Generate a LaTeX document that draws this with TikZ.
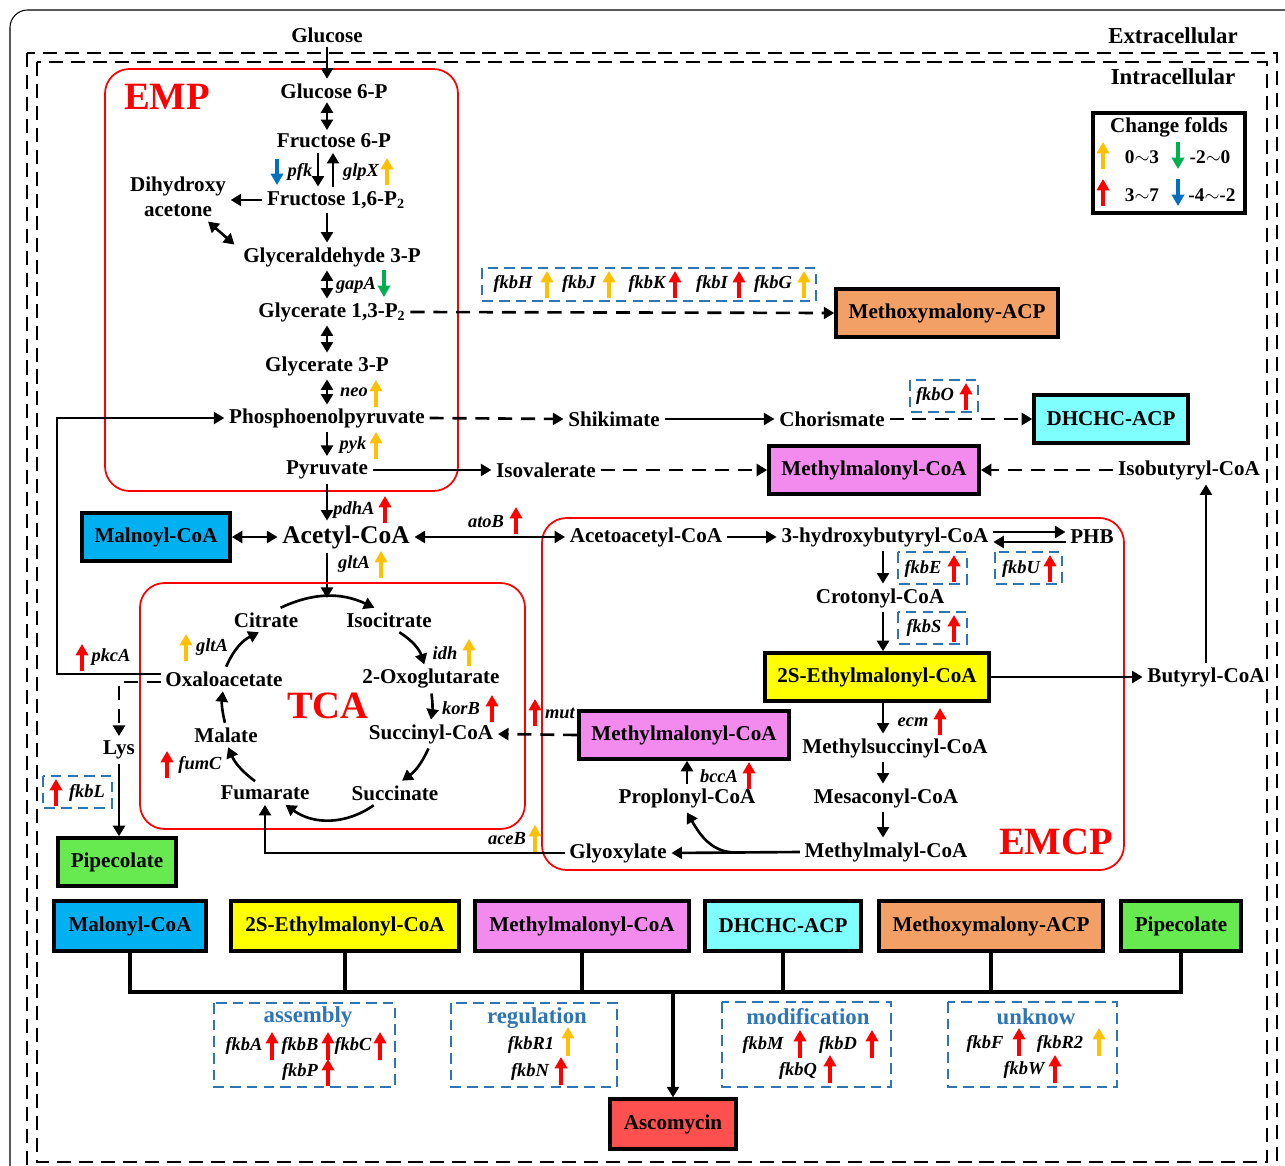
\documentclass[tikz,border=0pt]{standalone}
\usepackage{fontspec}
\setmainfont{Liberation Serif}
\usetikzlibrary{arrows.meta,calc}
\definecolor{foldyel}{RGB}{255,192,0}
\definecolor{foldgrn}{RGB}{0,176,80}
\definecolor{foldblu}{RGB}{0,112,192}
\definecolor{genebox}{RGB}{46,117,182}
\definecolor{malblue}{RGB}{0,176,240}
\definecolor{ethyel}{RGB}{255,255,0}
\definecolor{mmpink}{RGB}{243,139,238}
\definecolor{dhcyan}{RGB}{128,255,255}
\definecolor{mxorange}{RGB}{242,160,102}
\definecolor{pipgreen}{RGB}{102,234,80}
\definecolor{ascred}{RGB}{255,80,80}
\begin{document}
\begin{tikzpicture}[x=0.02cm,y=0.02cm,>={Triangle[length=6pt,width=6.8pt]},line width=1.5pt,
every node/.style={font=\bfseries\fontsize{12}{14}\selectfont,inner sep=2pt},
gene/.style={font=\bfseries\itshape\fontsize{10.5}{12}\selectfont,inner sep=1pt},
box/.style={draw,line width=2.3pt,inner xsep=7pt,minimum height=27pt},
bbox/.style={box,inner xsep=8pt,minimum height=28pt},
pway/.style={draw=red,line width=1pt,rounded corners=14pt},
pname/.style={red,font=\bfseries\fontsize{22}{24}\selectfont},
cellwall/.style={dash pattern=on 8pt off 4.5pt,line width=1.4pt},
dsh/.style={dash pattern=on 8pt off 5pt},
gbox/.style={draw=genebox,dash pattern=on 6pt off 3.5pt,line width=1pt},
gtitle/.style={genebox,font=\bfseries\fontsize{13}{15}\selectfont},
fold/.style={line width=2.1pt,-{Triangle[length=6.5pt,width=7pt]}},
fy/.style={fold,foldyel},fr/.style={fold,red},fg/.style={fold,foldgrn},fb/.style={fold,foldblu},
num/.style={font=\bfseries\fontsize{11}{13}\selectfont}]
\fill[white] (0,0) rectangle (1285,-1166);
\useasboundingbox (0,0) rectangle (1285,-1166);
\draw[line width=.6pt,rounded corners=10pt] (10,-10) rectangle (1320,-1200);
\draw[cellwall] (27,-53) rectangle (1277,-1190);
\draw[cellwall] (37,-62) rectangle (1267,-1162);
\node[font=\bfseries\fontsize{13}{15}\selectfont] (extra) at (1173,-36) {Extracellular};
\node[font=\bfseries\fontsize{13}{15}\selectfont] (intra) at (1173,-77) {Intracellular};

\draw[pway] (105,-69) rectangle (458,-491);
\node[pname] (emp) at (167,-97) {EMP};
\node (glc) at (327,-35) {Glucose};
\node (g6p) at (334,-91) {Glucose 6-P};
\node (f6p) at (334,-141) {Fructose 6-P};
\node (f16p) at (336,-200) {Fructose 1,6-P\textsubscript{2}};
\node[align=center] (dha) at (178,-197) {Dihydroxy\\acetone};
\node (gald) at (332,-257) {Glyceraldehyde 3-P};
\node (bpg) at (332,-312) {Glycerate 1,3-P\textsubscript{2}};
\node (pga) at (327,-366) {Glycerate 3-P};
\node (pep) at (327,-418) {Phosphoenolpyruvate};
\node (pyr) at (327,-470) {Pyruvate};
\node[font=\bfseries\fontsize{14.5}{16}\selectfont] (acoa) at (346,-537) {Acetyl-CoA};
\draw[->] (glc.south) -- (g6p.north -| glc);
\draw[<->] ($(g6p.south -| glc)+(0,1)$) -- ($(f6p.north -| glc)+(0,-1)$);
\draw[->] ($(f6p.south -| glc)+(-9,0)$) -- ($(f16p.north -| glc)+(-9,0)$);
\draw[->] ($(f16p.north -| glc)+(6,0)$) -- ($(f6p.south -| glc)+(6,0)$);
\draw[->] (f16p.west) -- (dha.east |- f16p.west);
\draw[->] (f16p.south -| glc) -- (gald.north -| glc);
\draw[<->] ($(dha.south)+(30,0)$) -- ($(gald.north west)+(-4,-2)$);
\draw[<->] ($(gald.south -| glc)+(0,1)$) -- ($(bpg.north -| glc)+(0,-1)$);
\draw[<->] ($(bpg.south -| glc)+(0,1)$) -- ($(pga.north -| glc)+(0,-1)$);
\draw[<->] ($(pga.south -| glc)+(0,1)$) -- ($(pep.north -| glc)+(0,-1)$);
\draw[->] (pep.south) -- (pyr.north);
\draw[->] (pyr.south) -- (acoa.north -| glc);
\node[gene] (pfk) at (300,-172) {pfk};
\draw[fb] (277,-159) -- (277,-185);
\node[gene] (glpx) at (361,-172) {glpX};
\draw[fy] (387,-185) -- (387,-158);
\node[gene] (gapa) at (356,-285) {gapA};
\draw[fg] (384,-270) -- (384,-297);
\node[gene] (neo) at (354,-392) {neo};
\draw[fy] (376,-407) -- (376,-380);
\node[gene] (pyk) at (353,-445) {pyk};
\draw[fy] (376,-459) -- (376,-432);
\node[gene] (pdha) at (354,-510) {pdhA};
\draw[fr] (385,-523) -- (385,-496);
\node[gene] (glta) at (354,-564) {gltA};
\draw[fy] (381,-578) -- (381,-551);
\node[gene] (atob) at (486,-522) {atoB};
\draw[fr] (516,-534) -- (516,-507);

\node (shik) at (614,-419) {Shikimate};
\node (chor) at (832,-419) {Chorismate};
\node (isov) at (546,-470) {Isovalerate};
\node (ibut) at (1189,-470) {Isobutyryl-CoA};
\node[box,fill=mxorange] (mxa) at (947,-313) {Methoxymalony-ACP};
\node[box,fill=dhcyan] (dhc) at (1111,-419) {DHCHC-ACP};
\node[box,fill=mmpink] (mmc) at (874,-470) {Methylmalonyl-CoA};
\draw[dsh,->] (bpg.east) -- (mxa.west);
\draw[dsh,->] (pep.east) -- (shik.west);
\draw[->] (shik.east) -- (chor.west);
\draw[dsh,->] (chor.east) -- (dhc.west);
\draw[->] (pyr.east) -- (isov.west);
\draw[dsh,->] (isov.east) -- (mmc.west);
\draw[dsh,->] (ibut.west) -- (mmc.east);
\draw[gbox] (482,-268) rectangle (816,-301);
\node[gene] (fkbh) at (513,-284) {fkbH};
\draw[fy] (547,-298) -- (547,-271);
\node[gene] (fkbj) at (579,-284) {fkbJ};
\draw[fy] (609,-298) -- (609,-271);
\node[gene] (fkbk) at (647,-284) {fkbK};
\draw[fr] (675,-298) -- (675,-271);
\node[gene] (fkbi) at (712,-284) {fkbI};
\draw[fr] (739,-298) -- (739,-271);
\node[gene] (fkbg) at (773,-284) {fkbG};
\draw[fy] (804,-298) -- (804,-271);
\draw[gbox] (910,-380) rectangle (978,-412);
\node[gene] (fkbo) at (935,-396) {fkbO};
\draw[fr] (966,-410) -- (966,-383);

\draw[line width=1.8pt] (1093,-113) rectangle (1245,-213);
\node (chg) at (1169,-127) {Change folds};
\draw[fy] (1103,-169) -- (1103,-142);
\node[num] (n1) at (1142,-157) {0$\sim$3};
\draw[fg] (1178,-142) -- (1178,-169);
\node[num] (n2) at (1210,-157) {-2$\sim$0};
\draw[fr] (1103,-206) -- (1103,-179);
\node[num] (n3) at (1142,-195) {3$\sim$7};
\draw[fb] (1178,-179) -- (1178,-206);
\node[num] (n4) at (1212,-195) {-4$\sim$-2};

\node[box,fill=malblue] (maln) at (156,-537) {Malnoyl-CoA};
\draw[<->] (maln.east) -- (acoa.west);
\coordinate (tcatop) at (327,-598);
\draw[->] (acoa.south -| glc) -- (tcatop);

\draw[pway] (140,-583) rectangle (525,-829);
\node[pname] (tca) at (328,-706) {TCA};
\node (cit) at (266,-620) {Citrate};
\node (iso) at (389,-620) {Isocitrate};
\node (ogl) at (431,-679) {2-Oxoglutarate};
\node (suc) at (431,-734) {Succinyl-CoA};
\node (sucn) at (395,-793) {Succinate};
\node (fum) at (265,-793) {Fumarate};
\node (mal) at (226,-735) {Malate};
\node (oaa) at (224,-679) {Oxaloacetate};
\draw[->] (cit.40) to[bend left=25] (iso.140);
\draw[->] (iso.-50) to[bend left=20] (ogl.115);
\draw[->] (ogl.-88) to[bend left=8] (suc.90);
\draw[->] (suc.-100) to[bend left=15] (sucn.60);
\draw[->] (sucn.-150) to[bend left=35] (fum.-30);
\draw[->] (fum.130) to[bend left=15] (mal.-80);
\draw[->] (mal.95) to[bend left=10] (oaa.-95);
\draw[->] (oaa.80) to[bend left=20] (cit.-120);
\node[gene] (glta2) at (212,-647) {gltA};
\draw[fy] (186,-661) -- (186,-634);
\node[gene] (idh) at (445,-653) {idh};
\draw[fy] (469,-666) -- (469,-639);
\node[gene] (korb) at (461,-708) {korB};
\draw[fr] (492,-722) -- (492,-695);
\node[gene] (fumc) at (200,-765) {fumC};
\draw[fr] (167,-778) -- (167,-751);
\node[gene] (pkca) at (111,-657) {pkcA};
\draw[fr] (82,-671) -- (82,-644);

\coordinate (lftrun) at (57,-550);
\draw[->] ($(oaa.west)+(0,5)$) -| (lftrun) |- (pep.west);
\node (lys) at (119,-750) {Lys};
\draw[dsh,->] ($(oaa.west)+(0,-3)$) -| (lys.north);
\node[box,fill=pipgreen] (pipl) at (117,-862) {Pipecolate};
\draw[->] (lys.south) -- (lys.south |- pipl.north);
\draw[gbox] (43,-776) rectangle (112,-808);
\node[gene] (fkbl) at (87,-793) {fkbL};
\draw[fr] (56,-806) -- (56,-779);

\draw[pway] (542,-518) rectangle (1124,-870);
\node[pname] (emcp) at (1056,-842) {EMCP};
\node (aac) at (646,-537) {Acetoacetyl-CoA};
\node (hbc) at (885,-537) {3-hydroxybutyryl-CoA};
\node (phb) at (1092,-537) {PHB};
\node (crot) at (880,-598) {Crotonyl-CoA};
\node[box,fill=ethyel] (etm) at (877,-677) {2S-Ethylmalonyl-CoA};
\node (msc) at (895,-748) {Methylsuccinyl-CoA};
\node (mesa) at (886,-798) {Mesaconyl-CoA};
\node (mmal) at (886,-852) {Methylmalyl-CoA};
\node[box,fill=mmpink] (mme) at (684,-735) {Methylmalonyl-CoA};
\node (prop) at (687,-798) {Proplonyl-CoA};
\node (glx) at (618,-853) {Glyoxylate};
\node (but) at (1206,-677) {Butyryl-CoA};
\coordinate (ecol) at (883,0);
\draw[<->] (acoa.east) -- (aac.west);
\draw[->] (aac.east) -- (hbc.west);
\draw[->] ($(hbc.east)+(0,5)$) -- ($(phb.west)+(0,5)$);
\draw[->] ($(phb.west)+(0,-5)$) -- ($(hbc.east)+(0,-5)$);
\draw[->] (hbc.south -| ecol) -- (crot.north -| ecol);
\draw[->] (crot.south -| ecol) -- (etm.north -| ecol);
\draw[->] (etm.south -| ecol) -- (msc.north -| ecol);
\draw[->] (msc.south -| ecol) -- (mesa.north -| ecol);
\draw[->] (mesa.south -| ecol) -- (mmal.north -| ecol);
\draw[->] (mmal.west) -- (glx.east);
\coordinate (fork) at ($(glx.east)!.5!(mmal.west)$);
\draw[->] (fork) to[out=180,in=-60] (prop.south);
\draw[->] (prop.north) -- (prop.north |- mme.south);
\draw[dsh,->] (mme.west) -- (suc.east);
\draw[->] (etm.east) -- (but.west);
\draw[->] (but.north) -- (but.north |- ibut.south);
\draw[->] (glx.west) -| (fum.south);
\draw[gbox] (898,-552) rectangle (967,-584);
\node[gene] (fkbe) at (923,-569) {fkbE};
\draw[fr] (954,-582) -- (954,-555);
\draw[gbox] (995,-552) rectangle (1062,-584);
\node[gene] (fkbu) at (1021,-569) {fkbU};
\draw[fr] (1050,-582) -- (1050,-555);
\draw[gbox] (898,-612) rectangle (967,-644);
\node[gene] (fkbs) at (924,-628) {fkbS};
\draw[fr] (954,-642) -- (954,-615);
\node[gene] (ecm) at (913,-722) {ecm};
\draw[fr] (940,-735) -- (940,-708);
\node[gene] (bcca) at (719,-776) {bccA};
\draw[fr] (749,-789) -- (749,-762);
\node[gene] (mut) at (560,-713) {mut};
\draw[fr] (535,-726) -- (535,-699);
\node[gene] (aceb) at (507,-839) {aceB};
\draw[fy] (535,-852) -- (535,-825);

\node[bbox,fill=malblue] (b1) at (130,-926) {Malonyl-CoA};
\node[bbox,fill=ethyel] (b2) at (345,-926) {2S-Ethylmalonyl-CoA};
\node[bbox,fill=mmpink] (b3) at (582,-926) {Methylmalonyl-CoA};
\node[bbox,fill=dhcyan] (b4) at (783,-926) {DHCHC-ACP};
\node[bbox,fill=mxorange] (b5) at (991,-926) {Methoxymalony-ACP};
\node[bbox,fill=pipgreen] (b6) at (1181,-926) {Pipecolate};
\node[bbox,fill=ascred] (asc) at (673,-1124) {Ascomycin};
\coordinate (bus) at (0,-992);
\draw[line width=2pt] (b1.south) |- (b6.south |- bus) -- (b6.south);
\draw[line width=2pt] (b2.south) -- (b2.south |- bus);
\draw[line width=2pt] (b3.south) -- (b3.south |- bus);
\draw[line width=2pt] (b4.south) -- (b4.south |- bus);
\draw[line width=2pt] (b5.south) -- (b5.south |- bus);
\draw[line width=1.8pt,->] (asc.north |- bus) -- (asc.north);
\draw[gbox] (214,-1003) rectangle (395,-1087);
\node[gtitle] (asm) at (308,-1017) {assembly};
\node[gene] (fkba) at (244,-1046) {fkbA};
\draw[fr] (272,-1060) -- (272,-1032);
\node[gene] (fkbb) at (300,-1046) {fkbB};
\draw[fr] (328,-1060) -- (328,-1032);
\node[gene] (fkbc) at (353,-1046) {fkbC};
\draw[fr] (380,-1060) -- (380,-1032);
\node[gene] (fkbp) at (300,-1072) {fkbP};
\draw[fr] (328,-1086) -- (328,-1059);
\draw[gbox] (451,-1003) rectangle (617,-1087);
\node[gtitle] (reg) at (537,-1018) {regulation};
\node[gene] (fkbr1) at (531,-1045) {fkbR1};
\draw[fy] (568,-1056) -- (568,-1027);
\node[gene] (fkbn) at (530,-1072) {fkbN};
\draw[fr] (561,-1085) -- (561,-1057);
\draw[gbox] (722,-1002) rectangle (891,-1087);
\node[gtitle] (modi) at (808,-1017) {modification};
\node[gene] (fkbm) at (763,-1045) {fkbM};
\draw[fr] (800,-1058) -- (800,-1030);
\node[gene] (fkbd) at (838,-1045) {fkbD};
\draw[fr] (872,-1058) -- (872,-1030);
\node[gene] (fkbq) at (798,-1071) {fkbQ};
\draw[fr] (830,-1083) -- (830,-1055);
\draw[gbox] (948,-1002) rectangle (1117,-1087);
\node[gtitle] (unk) at (1036,-1017) {unknow};
\node[gene] (fkbf) at (985,-1044) {fkbF};
\draw[fr] (1019,-1056) -- (1019,-1028);
\node[gene] (fkbr2) at (1060,-1044) {fkbR2};
\draw[fy] (1099,-1056) -- (1099,-1028);
\node[gene] (fkbw) at (1024,-1070) {fkbW};
\draw[fr] (1055,-1083) -- (1055,-1055);
\end{tikzpicture}
\end{document}
